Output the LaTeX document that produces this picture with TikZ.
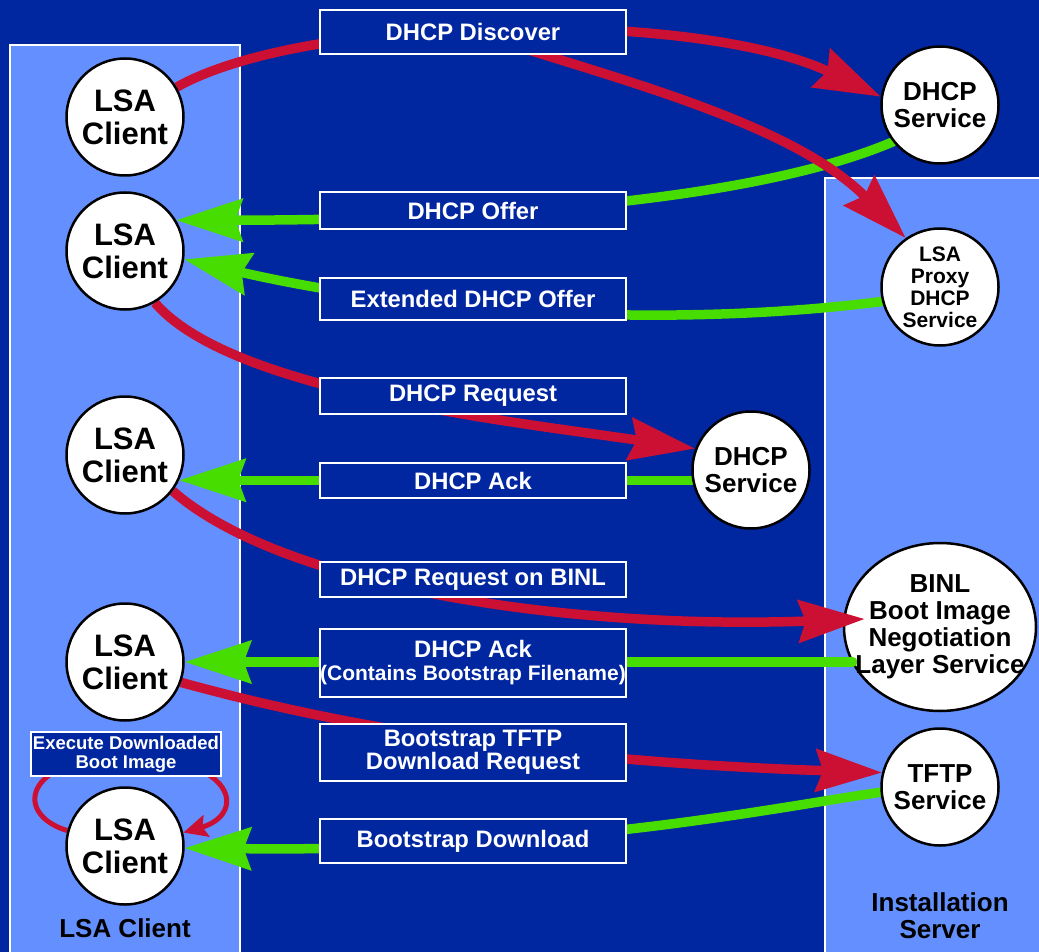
\documentclass[tikz,border=0pt]{standalone}
\usepackage{fontspec}
\setmainfont{Liberation Sans}
\usetikzlibrary{arrows.meta,shapes.geometric,calc}
\pgfdeclarelayer{panels}
\pgfdeclarelayer{shapes}
\pgfdeclarelayer{links}
\pgfsetlayers{panels,shapes,links,main}
\definecolor{dkblue}{RGB}{0,38,160}
\definecolor{ltblue}{RGB}{100,144,255}
\definecolor{redc}{RGB}{204,16,51}
\definecolor{grnc}{RGB}{72,221,0}
\begin{document}
\begin{tikzpicture}[x=1pt,y=-1pt,
  circ/.style={circle,draw=black,line width=2.5pt,fill=white,minimum size=117pt,inner sep=0pt,align=center,text=black,font=\bfseries\fontsize{31}{33}\selectfont},
  svc/.style={circ,font=\bfseries\fontsize{26}{27}\selectfont},
  lbl/.style={draw=white,line width=2pt,fill=dkblue,text=white,minimum width=306pt,inner sep=0pt,align=center,font=\bfseries\fontsize{23.8}{23}\selectfont},
  bigtip/.tip={Stealth[length=66pt,width=42pt,inset=7pt]},
  redln/.style={draw=redc,line width=9.5pt,-bigtip},
  grnln/.style={draw=grnc,line width=9.5pt,line cap=round,-bigtip},
  loopln/.style={draw=redc,line width=5pt,-{Stealth[length=24pt,width=22pt,inset=4pt]}},
  captxt/.style={text=black,align=center,font=\bfseries\fontsize{26}{27}\selectfont}
]
\useasboundingbox (0,0) rectangle (1039,952);
\begin{pgfonlayer}{panels}
\fill[dkblue] (0,0) rectangle (1039,952);
\filldraw[fill=ltblue,draw=white,line width=2pt] (10,45) rectangle (240,965);
\filldraw[fill=ltblue,draw=white,line width=2pt] (825,178) rectangle (1050,965);
\end{pgfonlayer}

% clients
\node[circ] (c1) at (125,117) {LSA\\Client};
\node[circ] (c2) at (125,251) {LSA\\Client};
\node[circ] (c3) at (125,455) {LSA\\Client};
\node[circ] (c4) at (125,662) {LSA\\Client};
\node[circ] (c5) at (125,846) {LSA\\Client};

% services
\node[svc] (s1) at (940,105) {DHCP\\Service};
\node[circ,font=\bfseries\fontsize{21}{22}\selectfont] (proxy) at (940,287) {LSA\\Proxy\\DHCP\\Service};
\node[svc] (s2) at (751,470) {DHCP\\Service};
\begin{pgfonlayer}{shapes}
\node[ellipse,draw=black,line width=2.5pt,fill=white,minimum width=192pt,minimum height=168pt,inner sep=0pt] (binl) at (940,627) {};
\end{pgfonlayer}
\node[captxt] (binltxt) at (940,627) {BINL\\Boot Image\\Negotiation\\Layer Service};
\node[svc] (tftp) at (940,787) {TFTP\\Service};

% labels
\node[lbl,minimum height=44pt] (disc) at (473,32) {DHCP Discover};
\node[lbl,minimum height=37pt] (offer) at (473,210.5) {DHCP Offer};
\node[lbl,minimum height=42pt] (ext) at (473,299) {Extended DHCP Offer};
\node[lbl,minimum height=36pt] (req) at (473,396) {DHCP Request};
\node[lbl,minimum height=35pt] (ack) at (473,480.5) {DHCP Ack};
\node[lbl,minimum height=35pt] (reqb) at (473,579.5) {DHCP Request on BINL};
\node[lbl,minimum height=68pt] (ack2) at (473,663) {DHCP Ack\\\fontsize{21}{23}\selectfont(Contains Bootstrap Filename)};
\node[lbl,minimum height=57pt] (treq) at (473,752.5) {Bootstrap TFTP\\Download Request};
\node[lbl,minimum height=44pt] (dl) at (473,841) {Bootstrap Download};
\node[lbl,minimum width=190pt,minimum height=44pt,font=\bfseries\fontsize{18.5}{19}\selectfont] (exec) at (126,754) {Execute Downloaded\\Boot Image};

% captions
\node[captxt] (lsacap) at (125,928) {LSA Client};
\node[captxt] (instcap) at (940,916) {Installation\\Server};

\begin{pgfonlayer}{links}
\draw[redln] (c1.30) .. controls (310,12) and (700,10) .. (s1.172);
\draw[grnln] (s1.218) .. controls (780,190) and (560,220) .. (c2.31);
\draw[redln] (disc.center) .. controls (600,75) and (790,120) .. (proxy.125);
\draw[grnln] (proxy.194) .. controls (700,325) and (450,320) .. (c2.-8);
\draw[redln] (c2.-60) .. controls (230,390) and (500,420) .. (s2.159);
\draw[grnln] (s2.center |- c3.-25) -- (c3.-25);
\draw[redln] (c3.-37) .. controls (280,585) and (560,630) .. ($(binl.west)+(22,-8)$);
\draw[grnln] ($(binl.west |- c4.east)+(10,0)$) -- (c4.east);
\draw[redln] (c4.-20) .. controls (300,715) and (500,760) .. (tftp.166);
\draw[grnln] (tftp.185) .. controls (760,810) and (560,852) .. (c5.-2);
\draw[loopln] (c5.165) .. controls (15,815) and (20,760) .. (exec.center) .. controls (240,760) and (245,815) .. (c5.13);
\end{pgfonlayer}
\end{tikzpicture}
\end{document}
